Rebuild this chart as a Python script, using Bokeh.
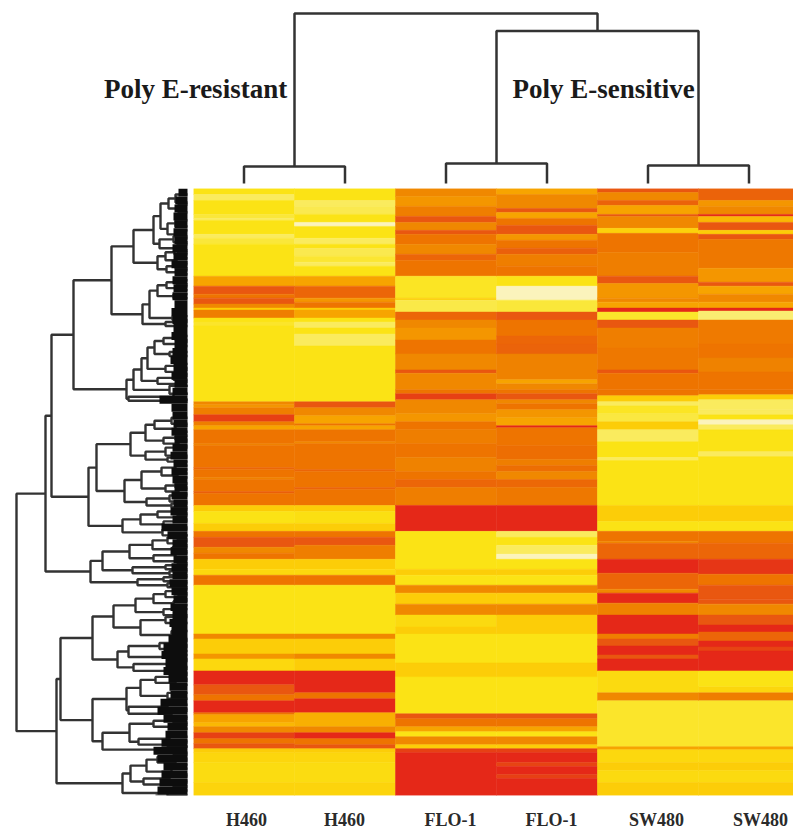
from bokeh.plotting import figure
from bokeh.layouts import column, row
from bokeh.models import Range1d, FixedTicker, LinearAxis
from bokeh.core.properties import value
from bokeh.embed import file_html
from bokeh.resources import INLINE
import numpy as np

sample_labels = ["H460", "H460", "FLO-1", "FLO-1", "SW480", "SW480"]
label_positions = [0.525, 1.495, 2.545, 3.545, 4.584, 5.614]
group_labels = ["Poly E-resistant", "Poly E-sensitive"]
group_label_x = [0.02, 4.06]
group_label_height = [95, 95]

palette = ["#FBF3BC", "#FAEB5E", "#FBE315", "#FCCD08", "#F7A400", "#F08800",
           "#EE7400", "#E95710", "#E52818"]

# each column: (last row of run, expression level)
H460_1 = [(3,2),(6,1),(13,2),(15,1.5),(16,1),(23,2),(25,1),(28,1.5),(44,2),(49,4),(53,7),(55,6),(58,7),
          (60,5),(61,3),(65,5.5),(67,2),(69,1.7),(107,2),(108.5,5),(110,4.5),(113.5,5.5),(117,7.5),(119,5.5),
          (121,4),(128,6),(129,5.3),(140,6),(141,6.5),(145,6),(146,5.3),(152,6),(153,6.7),(159,6),(162,3),
          (168,2),(172,3),(175,6),(180,7),(183,5),(186,6),(191,3),(194,2.5),(199,6),(223.5,2),(226,5),
          (233.5,3),(236,4.5),(242,2.5),(249,8),(254,7),(257,6),(263,8),(264,6),(268,4),(270,3.5),(273,5),
          (276,7.5),(278.5,6),(281,7),(283,3),(288,2.6),(298,2.3),(304.5,2.7)]
H460_2 = [(6,2),(9,1),(13,1.2),(17,2),(19,0),(25,2),(28,1),(30,2),(34,1.2),(37,1.6),(39,1),(44,2),(49,4),
          (55,6.5),(57,4.5),(60,6),(61,3),(65,4),(67,2),(70,1),(73,2),(79,1),(107,2),(110,7),(114,5),(118,4),
          (119,6),(121,4),(127,6),(128,5),(141,6),(142,6.5),(150,6),(151,6.6),(159,6),(162,3),(168,2.2),(172,3),
          (175,6),(179,7),(186,5.5),(191,3),(194,2.5),(199,6),(223.5,2),(226,5),(233.5,3),(236,5),(242,3),
          (253,8),(256,6),(263,8),(270,3.7),(273,5),(276,8),(279,6),(281,7),(283,3),(288,2.6),(298,2.3),(304.5,2.7)]
FLO_1 = [(4,5),(9,4.5),(14,5.5),(17,7),(21,5),(23,7),(28,6),(33,5),(36,6.5),(44,6),(55,1.8),(56,3),(62,1.3),
         (66,6.5),(70,5),(76,4.5),(83,6),(91,5),(92.7,7),(101,5),(103,6),(106,7.5),(113,5),(117,4.5),(121,6),
         (128,5.5),(135,6),(142,5.3),(146,6),(150,6.5),(159,5.5),(172,8),(191,2),(194,3),(199,2),(203,5),
         (208.5,3),(214,5),(220,2.4),(223.5,3),(238,2),(245,3),(263.5,2),(266,7),(270,6),(272.5,4),(275,2),
         (279,5),(281,3),(283,7.5),(304.5,8)]
FLO_2 = [(3,4),(10,5),(12,7),(15,4),(18.5,6),(23,7),(26,4.5),(30,6),(33,6.7),(39,5.5),(44,6),(49,2),(56,0),
         (62,1.5),(66,7),(74,6),(78,6.5),(83,6.6),(96,5.3),(98,4),(101,5),(103,6),(106,7),(108,5),(111,6),
         (115,4.5),(119,4),(120,8),(129,6),(136,6.2),(139,5.5),(142,6.2),(146,5),(150,6.4),(159,5.8),(172,8),
         (175,1),(179,2),(183.5,1),(186,0),(191,2),(194,3),(199,2),(203,5),(208.5,3),(214,5),(223.5,3),(238,2),
         (245,3),(263.5,2),(266,7),(270,6),(272.5,4),(275,2),(279,5),(281,3),(283,7.5),(288,8),(290,7.4),(294,8),
         (296,7.5),(304.5,8)]
SW480_1 = [(2,7),(6,5),(8.5,6.6),(13,4),(14,7),(20,5),(22.5,2.8),(32,6),(44,5.5),(47.7,7),(55,4.5),(57,5),
           (60,4),(62,8),(66,1.7),(70,7),(80,5.5),(91,5.8),(92.7,7),(101,6),(104,6),(107,3),(109,1),(113,1.8),
           (117,1.4),(121,3),(127,1),(135,2),(136.5,1),(159,2),(167,3),(172,2),(177,6),(178,5),(186,6.5),(193,8),
           (201,6.5),(203,5),(208,8),(214,5.3),(223.5,8),(226,5.5),(229.5,7),(234,8),(236,7),(242,8),(253,2.4),
           (257,5),(280,1.7),(281.5,4),(288,2.5),(292,3),(298,2.4),(304.5,3)]
SW480_2 = [(6,6.6),(9,4.5),(13,5),(14,8),(17,3.5),(21,7),(23,3),(25.5,7),(40,5.8),(47,4.5),(49,7),(53,4),
           (57,5),(60,4),(61.5,8),(66,0.8),(78,5.7),(85,6),(92,5.3),(101,6),(103.5,6),(106,3),(111,1),(113.5,1),
           (116,2),(118.5,0),(121,1),(132,2),(134.5,1),(159,2),(167,3),(172,2),(178,6),(186,6.5),(193.5,7.7),
           (199,6),(206,7),(208.5,7),(214,5),(219,7),(222.5,8),(227,6.5),(230,8),(232,7.4),(242,8),(250,2),(253,2.6),
           (257,5.5),(280,1.7),(281.5,4),(288,2.5),(292,3),(298,2.4),(304.5,3)]
heat_columns = [H460_1, H460_2, FLO_1, FLO_2, SW480_1, SW480_2]

# sample tree: (merge height, child, child); a bare number is a column position
sample_tree = (170, (17, 0.5, 1.5), (152.5, (20, 2.5, 3.5), (18, 4.5, 5.5)))

# gene tree, leaves are rows
a1a1 = (34,(27,(19,(12,3,7),(9,8,12)),(20,(12,16,19),(9,21,25))),(28,(14,24,27),(10,28,32)))
a1a2 = (30,(22,(13,31,33),(11,35,37)),(21,(12,38,40),(9,41,43)))
a1b = (45,(38,(30,(21,(11,46,48),(9,49,51)),(14,53,55)),(15,64,66)),(22,67,69))
a2 = (61,(54,(46,(40,(33,(24,(12,74,76),(10,77,79)),(18,82,84)),(22,(12,88,90),(9,91,93))),
               (30,(14,94,96),(11,97,99))),(18,99,103)),(59,(14,103,106),(10,106,107)))
branch_a = (114,(76,(54,a1a1,a1a2),a1b),a2)
b1 = (91,(57,(42,(33,(16,115,118),(12,119,122)),(24,(12,124,126),(9,127,129))),(42,(22,130,134),(20,135,137))),
      (63,(46,(26,(12,139,141),(10,143,145)),(22,(12,148,150),(9,151,153))),(41,(18,154,157),(16,158,160))))
b2 = (65,(47,(30,(14,161,163),(10,164,166)),(24,167,170)),(25,171,174))
branch_c = (97,(85,(58,(35,(20,(10,174,176),(10,177,179)),(15,180,182)),(34,(12,183,185),(10,186,188))),
                (55,(22,189,191),(18,192,194))),(50,(24,195,197),(20,198,200)))
e1 = (95,(74,(52,(34,(22,(12,201,203),(9,204,206)),(14,207,209)),(24,211,214)),(47,(22,215,218),(16,222,226))),
      (70,(59,(28,(12,227,229),(10,230,232)),(18,234,236)),(54,(20,237,240),(16,241,243))))
e2 = (95,(61,(47,(32,(14,244,246),(12,247,249)),(20,253,256)),(59,(20,259,261),(16,262,265))),
      (85,(58,(34,(14,266,268),(10,269,271)),(49,(18,275,277),(16,278,280))),(20,280,283)))
branch_f = (65,(57,(41,(30,(14,284,286),(12,287,289)),(16,291,294)),(44,(18,295,297),(14,298,300))),(20,302,304.5))
gene_tree = (171,(142,(136,branch_a,(99,b1,b2)),branch_c),(131,(127,e1,e2),branch_f))

# depth of the dense leaf band, one value per 4 rows
leaf_reach = [9,12,13,14,13,14,13,15,14,16,13,15,14,15,13,16,15,14,16,13,15,17,14,16,13,15,28,16,
              15,14,16,13,15,17,14,16,15,13,16,14,17,15,26,20,15,17,14,16,15,18,16,14,17,15,18,16,19,
              24,26,22,24,19,18,17,27,30,24,20,22,26,34,30,24,26,28,30,32]

N_ROWS = 304.5
COL_PX = 101.0
INK = "#333333"


def level_color(v):
    i = int(np.floor(v))
    j = min(i + 1, len(palette) - 1)
    t = v - i
    a = [int(palette[i][k:k + 2], 16) for k in (1, 3, 5)]
    b = [int(palette[j][k:k + 2], 16) for k in (1, 3, 5)]
    return "#%02x%02x%02x" % tuple(int(round(a[k] * (1 - t) + b[k] * t)) for k in range(3))


def walk(node, h_out, pos_out):
    if not isinstance(node, tuple):
        return 0, node
    h, a, b = node
    ha, pa = walk(a, h_out, pos_out)
    hb, pb = walk(b, h_out, pos_out)
    h_out.append([ha, h, h, hb])
    pos_out.append([pa, pa, pb, pb])
    return h, (pa + pb) / 2


# top dendrogram and group names
top = figure(width=793, height=188, x_range=Range1d(-193 / COL_PX, 600 / COL_PX), y_range=Range1d(-5, 183),
             toolbar_location=None, output_backend="svg", min_border=0, outline_line_color=None,
             x_axis_location=None, y_axis_location=None)
top.grid.visible = False
hs, ps = [], []
walk(sample_tree, hs, ps)
top.multi_line(xs=ps, ys=hs, line_color=INK, line_width=2.5)
top.text(x=group_label_x, y=group_label_height, text=group_labels, text_font=value("Liberation Serif"),
         text_font_style="bold", text_font_size="27px", text_align="center", text_baseline="middle",
         text_color="#1a1a1a")

# left dendrogram
left = figure(width=193, height=644, x_range=Range1d(187, -6), y_range=Range1d(N_ROWS, 0),
              toolbar_location=None, output_backend="svg", min_border=0, min_border_bottom=35,
              outline_line_color=None, x_axis_location=None, y_axis_location=None)
left.grid.visible = False
hs, ps = [], []
walk(gene_tree, hs, ps)
left.multi_line(xs=hs, ys=ps, line_color=INK, line_width=2.4)
bins = np.arange(len(leaf_reach)) * 4
left.quad(left=0, right=leaf_reach, top=np.minimum(bins, N_ROWS), bottom=np.minimum(bins + 4, N_ROWS),
          fill_color="#0d0d0d", line_color=None)

# heat map
main = figure(width=600, height=644, x_range=Range1d(0, 600 / COL_PX), y_range=Range1d(N_ROWS, 0),
              toolbar_location=None, output_backend="svg", min_border=0, min_border_bottom=35,
              outline_line_color=None, y_axis_location=None, x_axis_location=None)
main.grid.visible = False
l, r, t, b, c = [], [], [], [], []
for ci, runs in enumerate(heat_columns):
    start = 0
    for end, lev in runs:
        l.append(ci); r.append(ci + 1); t.append(start); b.append(end); c.append(level_color(lev))
        start = end
main.quad(left=l, right=r, top=t, bottom=b, fill_color=c, line_color=c, line_width=0.5)

axis = LinearAxis(ticker=FixedTicker(ticks=label_positions),
                  major_label_overrides={p: s for p, s in zip(label_positions, sample_labels)})
axis.axis_line_color = None
axis.major_tick_line_color = None
axis.minor_tick_line_color = None
axis.major_tick_out = 0
axis.major_tick_in = 0
axis.major_label_standoff = 14
axis.major_label_text_font = "Liberation Serif"
axis.major_label_text_font_style = "bold"
axis.major_label_text_font_size = "18px"
axis.major_label_text_color = "#2a2a2a"
main.add_layout(axis, "below")

page = column(top, row(left, main))
open("out.html", "w").write(file_html(page, INLINE))
